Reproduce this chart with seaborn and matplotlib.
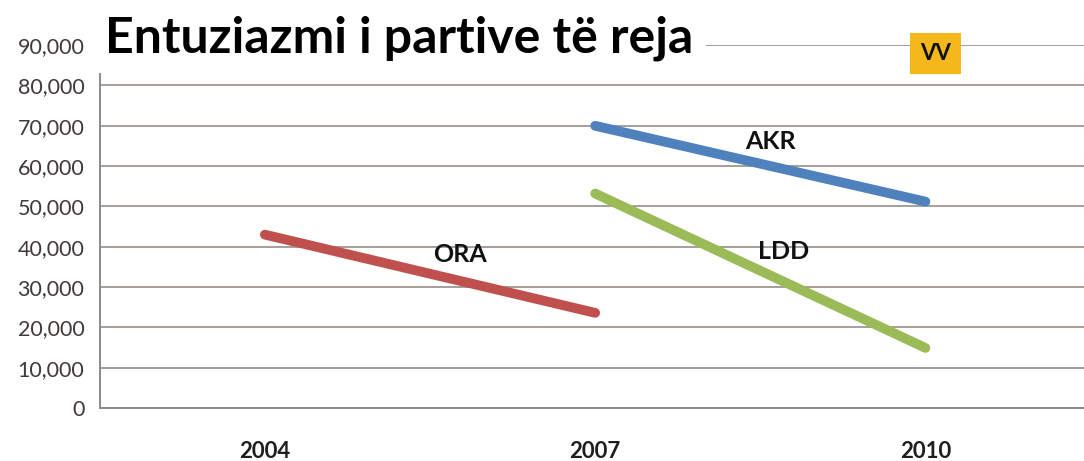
import pandas as pd
import matplotlib.pyplot as plt
import seaborn as sns

# Data
years = ["2004", "2007", "2010"]
ora = [43000, 23600, None]
akr = [None, 70000, 51200]
ldd = [None, 53200, 14900]
vv_value = 88000

parties = ["ORA", "AKR", "LDD"]
colors = ["#C0504D", "#4F81BD", "#9BBB59"]
label_pos = [(0.59, 38000), (1.53, 66200), (1.57, 38800)]

rows = []
for name, vals in zip(parties, [ora, akr, ldd]):
    for i, v in enumerate(vals):
        if v is not None:
            rows.append({"x": i, "value": v, "party": name})
df = pd.DataFrame(rows)

sns.set_style("white")
plt.rcParams["font.family"] = ["Lato", "DejaVu Sans"]

fig = plt.figure(figsize=(10.84, 4.61), dpi=100)
ax = fig.add_axes([0.092, 0.115, 0.908, 0.787])

sns.lineplot(data=df, x="x", y="value", hue="party", palette=dict(zip(parties, colors)),
             linewidth=7, legend=False, ax=ax, solid_capstyle="round")

ax.set_ylim(0, 90000)
ax.set_xlim(-0.5, 2.48)
ax.set_yticks(range(0, 90001, 10000))
ax.set_yticklabels([f"{v:,}" for v in range(0, 90001, 10000)], fontsize=15.5, color="#3f3a38")
ax.set_xticks(range(len(years)))
ax.set_xticklabels(years, fontsize=16, fontweight="bold", color="#1e1e1e")
ax.set_xticks([-0.5, 0.5, 1.5], minor=True)
ax.tick_params(axis="x", which="major", length=0, pad=24)
ax.tick_params(axis="x", which="minor", length=6, color="#8a8a8a", direction="out")
ax.tick_params(axis="y", length=5, color="#8a8a8a", direction="out", pad=6)
ax.set_xlabel("")
ax.set_ylabel("")

ax.yaxis.grid(True, color="#a59f9c", linewidth=1.4)
ax.set_axisbelow(True)
for s in ["top", "right"]:
    ax.spines[s].set_visible(False)
for s in ["left", "bottom"]:
    ax.spines[s].set_color("#8a8a8a")
    ax.spines[s].set_linewidth(1.4)

for name, (px, py) in zip(parties, label_pos):
    ax.text(px, py, name, fontsize=18, fontweight="bold", ha="center", va="center", color="#111111")

ax.text(2.03, vv_value, "VV", fontsize=16, fontweight="bold", ha="center", va="center",
        color="#111111", bbox=dict(boxstyle="square,pad=0.45", facecolor="#F5B81B", edgecolor="none"))

fig.text(0.097, 0.918, "Entuziazmi i partive të reja", fontsize=36, fontweight="bold",
         ha="left", va="center", color="#000000",
         bbox=dict(boxstyle="square,pad=0.25", facecolor="white", edgecolor="none"))

fig.savefig("out.png", dpi=100)
